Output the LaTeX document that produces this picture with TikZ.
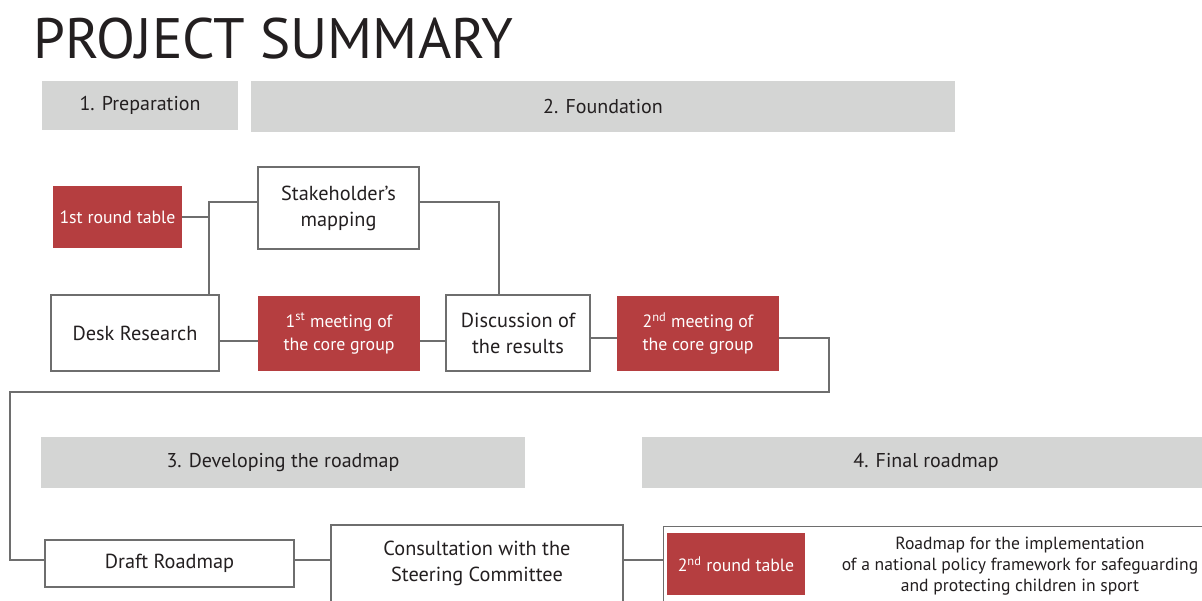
\documentclass[tikz,border=0pt]{standalone}
\usepackage{fontspec}
\setmainfont{PT Sans}
\definecolor{bargray}{HTML}{D4D5D4}
\definecolor{brick}{HTML}{B53E40}
\definecolor{linegray}{HTML}{6E6E6E}
\definecolor{ink}{HTML}{231F20}
\begin{document}
\begin{tikzpicture}[x=1pt,y=-1pt,
  phase/.style={fill=bargray, draw=none, text=ink, inner sep=0pt,
    font=\fontsize{20}{23}\selectfont},
  stepbox/.style={draw=linegray, line width=1.3pt, fill=white, text=ink,
    align=center, inner sep=0pt, font=\fontsize{20.3}{26}\selectfont},
  redbox/.style={fill=brick, text=white, align=center, inner sep=0pt,
    font=\fontsize{17.8}{23}\selectfont},
  link/.style={draw=linegray, line width=1.3pt}]
\clip (0,0) rectangle (1202,600);
\fill[white] (0,0) rectangle (1202,600);

% title
\node[anchor=base west, text=ink, inner sep=0pt, font=\fontsize{57}{62}\selectfont]
  (title) at (33,58) {PROJECT SUMMARY};

% phase bars
\node[phase, minimum width=196, minimum height=49] (prep) at (140,105.5) {1. Preparation};
\node[phase, minimum width=704, minimum height=51] (found) at (603,106.5) {2. Foundation};
\node[phase, minimum width=484, minimum height=51] (devel) at (283,462.5) {3. Developing the roadmap};
\node[phase, minimum width=568, minimum height=51] (final) at (926,462.5) {4. Final roadmap};

% steps of phases 1 and 2
\node[redbox, minimum width=129, minimum height=62] (rt1) at (117.5,217) {1st round table};
\node[stepbox, minimum width=161, minimum height=82] (sm) at (338.5,208) {Stakeholder’s\\mapping};
\node[stepbox, minimum width=168, minimum height=76] (dr) at (135,333) {Desk Research};
\node[redbox, minimum width=162, minimum height=75] (m1) at (339,333.5)
  {1\textsuperscript{st} meeting of\\the core group};
\node[stepbox, minimum width=144, minimum height=76] (dis) at (518,333)
  {Discussion of\\the results};
\node[redbox, minimum width=162, minimum height=75] (m2) at (698,333.5)
  {2\textsuperscript{nd} meeting of\\the core group};

% steps of phases 3 and 4
\node[stepbox, minimum width=249, minimum height=47] (draft) at (169.5,563.5) {Draft Roadmap};
\node[stepbox, minimum width=292, minimum height=77] (cons) at (477,563.5)
  {Consultation with the\\Steering Committee};
\node[stepbox, anchor=north west, minimum width=560, minimum height=90] (fin) at (663,526) {};
\node[redbox, minimum width=138, minimum height=62] (rt2) at (736,564)
  {2\textsuperscript{nd} round table};
\node[text=ink, align=center, inner sep=0pt, font=\fontsize{17.6}{21}\selectfont]
  (goal) at (1020,566)
  {Roadmap for the implementation\\of a national policy framework for safeguarding\\and protecting children in sport};

% connectors
\coordinate (j1) at (209,202);
\coordinate (j2) at (499,202);
\coordinate (r1) at (0,341);
\coordinate (r2) at (0,338);
\coordinate (j3) at (829,338);
\coordinate (j4) at (10,392);
\coordinate (r3) at (0,560);

\draw[link] (rt1.east) -- (rt1.east -| j1);
\draw[link] (j1 -| sm.west) -- (j1) -- (j1 |- dr.north);
\draw[link] (j2 -| sm.east) -- (j2) -- (j2 |- dis.north);
\draw[link] (r1 -| dr.east) -- (r1 -| m1.west);
\draw[link] (r1 -| m1.east) -- (r1 -| dis.west);
\draw[link] (r2 -| dis.east) -- (r2 -| m2.west);
\draw[link] (r2 -| m2.east) -- (j3) |- (j4) -- (j4 |- r3) -- (r3 -| draft.west);
\draw[link] (r3 -| draft.east) -- (r3 -| cons.west);
\draw[link] (r3 -| cons.east) -- (r3 -| fin.west);
\end{tikzpicture}
\end{document}
